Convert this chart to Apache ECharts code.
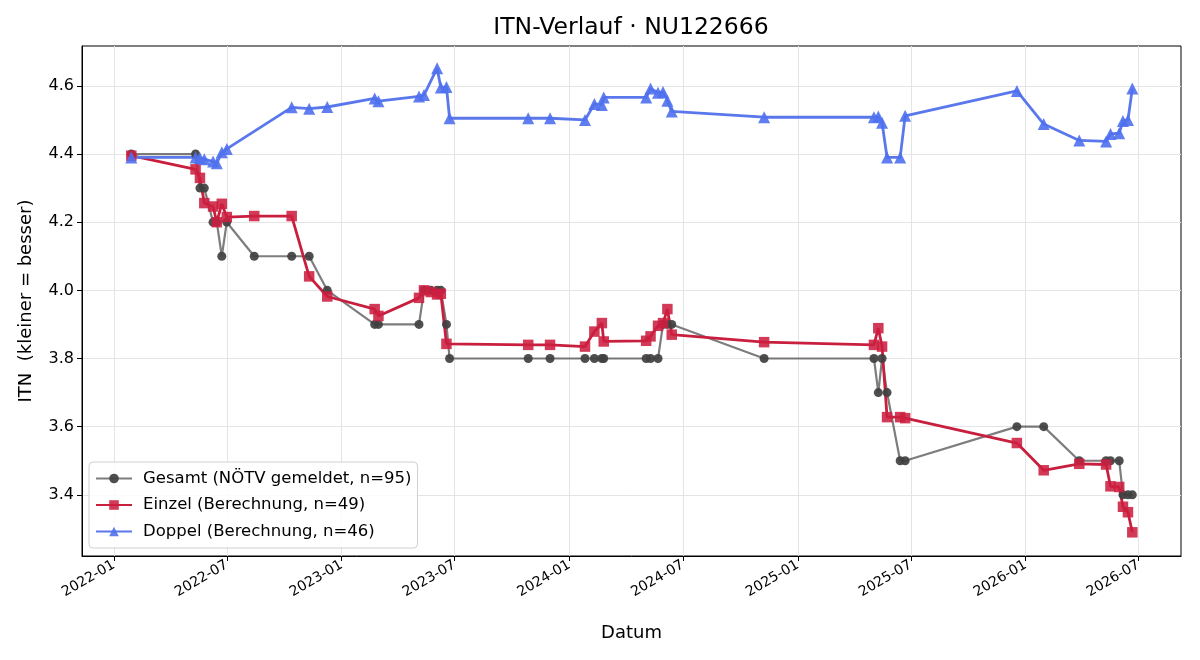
<!DOCTYPE html>
<html>
<head>
    <meta charset="UTF-8">
    <title>ITN-Verlauf</title>
    <script src="https://cdn.jsdelivr.net/npm/echarts@6/dist/echarts.min.js"></script>
    <style>
        html, body { margin: 0; padding: 0; background: #fff; }
    </style>
</head>
<body>
<div id="chart" style="width: 1200px; height: 660px;"></div>

<script>
    // match dates (shared by all three series)
    const dates = [
        '2022-01-29', '2022-05-12', '2022-05-19', '2022-05-26', '2022-06-09', '2022-06-15', '2022-06-23',
        '2022-07-01', '2022-08-14', '2022-10-13', '2022-11-10', '2022-12-09', '2023-02-23', '2023-03-01',
        '2023-05-05', '2023-05-13', '2023-05-24', '2023-06-03', '2023-06-09', '2023-06-18', '2023-06-23',
        '2023-10-27', '2023-12-01', '2024-01-26', '2024-02-10', '2024-02-22', '2024-02-25', '2024-05-03',
        '2024-05-10', '2024-05-22', '2024-05-30', '2024-06-06', '2024-06-13', '2024-11-08', '2025-05-03',
        '2025-05-10', '2025-05-16', '2025-05-24', '2025-06-14', '2025-06-22', '2025-12-18', '2026-01-30',
        '2026-03-28', '2026-05-10', '2026-05-17', '2026-05-31', '2026-06-06', '2026-06-14', '2026-06-21'
    ];

    const gesamt = [
        4.40, 4.40, 4.30, 4.30, 4.20, 4.20, 4.10, 4.20, 4.10, 4.10, 4.10, 4.00,
        3.90, 3.90, 3.90, 4.00, 4.00, 4.00, 4.00, 3.90, 3.80,
        3.80, 3.80, 3.80, 3.80, 3.80, 3.80, 3.80, 3.80, 3.80,
        3.90, 3.90, 3.90, 3.80, 3.80, 3.70, 3.80, 3.70, 3.50, 3.50,
        3.60, 3.60, 3.50, 3.50, 3.50, 3.50, 3.40, 3.40, 3.40
    ];

    const einzel = [
        4.395, 4.355, 4.33, 4.256, 4.246, 4.20, 4.254, 4.215, 4.218, 4.218,
        4.041, 3.982, 3.945, 3.925, 3.978, 4.0, 3.995, 3.988, 3.99, 3.843, null,
        3.840, 3.840, 3.835, 3.879, 3.904, 3.850, 3.852, 3.865, 3.896, 3.904, 3.945, 3.870,
        3.848, 3.840, 3.889, 3.835, 3.628, 3.628, 3.625,
        3.552, 3.472, 3.491, 3.489, 3.425, 3.423, 3.365, 3.349, 3.29
    ];

    const doppel = [
        4.39, 4.39, 4.388, 4.385, 4.378, 4.373, 4.405, 4.415, null,
        4.537, 4.533, 4.538, 4.563, 4.555, 4.569, 4.573, null,
        4.652, 4.595, 4.597, 4.505, 4.505, 4.505, 4.500,
        4.547, 4.544, 4.566, 4.566, 4.592, 4.580, 4.582, 4.556, 4.525,
        4.508, 4.508, 4.510, 4.492, 4.390, 4.390, 4.512,
        4.585, 4.488, 4.440, 4.437, 4.459, 4.461, 4.497, 4.50, 4.592
    ];

    const xTickLabels = ['2022-01', '2022-07', '2023-01', '2023-07', '2024-01',
        '2024-07', '2025-01', '2025-07', '2026-01', '2026-07'];
    const yTicks = [3.4, 3.6, 3.8, 4.0, 4.2, 4.4, 4.6];

    const FONT = 'DejaVu Sans';

    function pairs(values) {
        const out = [];
        dates.forEach((d, i) => {
            if (values[i] != null) out.push([Date.parse(d), values[i]]);
        });
        return out;
    }

    function fmtMonth(v) {
        const d = new Date(v);
        return d.getUTCFullYear() + '-' + String(d.getUTCMonth() + 1).padStart(2, '0');
    }

    const xTickVals = xTickLabels.map(s => Date.parse(s + '-01'));

    const chart = echarts.init(document.getElementById('chart'));
    const option = {
        animation: false,
        backgroundColor: '#fff',
        title: {
            text: 'ITN-Verlauf · NU122666',
            left: 626,
            top: 11,
            textAlign: 'center',
            textStyle: { fontFamily: FONT, fontSize: 23.5, fontWeight: 'normal', color: '#000' }
        },
        grid: {
            left: 82, right: 19, top: 46, bottom: 104,
            show: true, borderColor: '#000', borderWidth: 1
        },
        legend: {
            orient: 'vertical',
            left: 89,
            top: 462,
            padding: [8, 6, 8, 6],
            itemGap: 9.5,
            itemWidth: 36,
            itemHeight: 12,
            backgroundColor: 'rgba(255,255,255,0.85)',
            borderColor: '#d0d0d0',
            borderWidth: 1,
            borderRadius: 4,
            textStyle: { fontFamily: FONT, fontSize: 16.5, color: '#000', padding: [0, 0, 0, 6] }
        },
        xAxis: {
            type: 'value',
            min: Date.parse('2021-11-11'),
            max: Date.parse('2026-09-07'),
            name: 'Datum',
            nameLocation: 'middle',
            nameGap: 68,
            nameTextStyle: { fontFamily: FONT, fontSize: 18, color: '#000' },
            axisLine: { show: true, lineStyle: { color: '#000', width: 1 } },
            axisTick: { show: true, length: 5, customValues: xTickVals, lineStyle: { color: '#000' } },
            axisLabel: {
                customValues: xTickVals,
                rotate: 30,
                margin: 8,
                formatter: fmtMonth,
                fontFamily: FONT, fontSize: 14, color: '#000'
            },
            splitLine: { show: true, lineStyle: { color: '#e4e4e4', width: 1 } }
        },
        yAxis: {
            type: 'value',
            min: 3.2205,
            max: 4.717,
            name: 'ITN  (kleiner = besser)',
            nameLocation: 'middle',
            nameRotate: 90,
            nameGap: 47,
            nameTextStyle: { fontFamily: FONT, fontSize: 18, color: '#000' },
            axisLine: { show: true, lineStyle: { color: '#000', width: 1 } },
            axisTick: { show: true, length: 5, customValues: yTicks, lineStyle: { color: '#000' } },
            axisLabel: {
                customValues: yTicks,
                margin: 8,
                formatter: v => v.toFixed(1),
                fontFamily: FONT, fontSize: 16, color: '#000'
            },
            splitLine: { show: true, lineStyle: { color: '#e4e4e4', width: 1 } }
        },
        series: [
            {
                name: 'Gesamt (NÖTV gemeldet, n=95)',
                type: 'line',
                data: pairs(gesamt),
                symbol: 'circle',
                symbolSize: 9,
                showAllSymbol: true,
                lineStyle: { color: 'rgba(70,70,70,0.7)', width: 2.2 },
                itemStyle: { color: '#404040', opacity: 0.92 },
                emphasis: { disabled: true }
            },
            {
                name: 'Einzel (Berechnung, n=49)',
                type: 'line',
                data: pairs(einzel),
                symbol: 'rect',
                symbolSize: 10.5,
                showAllSymbol: true,
                lineStyle: { color: '#c91f3f', width: 2.8 },
                itemStyle: { color: '#cc1f40', opacity: 0.88 },
                emphasis: { disabled: true }
            },
            {
                name: 'Doppel (Berechnung, n=46)',
                type: 'line',
                data: pairs(doppel),
                symbol: 'triangle',
                symbolSize: 12,
                showAllSymbol: true,
                lineStyle: { color: '#5a78ec', width: 2.8 },
                itemStyle: { color: '#4f70ee', opacity: 0.9 },
                emphasis: { disabled: true }
            }
        ]
    };
    chart.setOption(option);
</script>
</body>
</html>
